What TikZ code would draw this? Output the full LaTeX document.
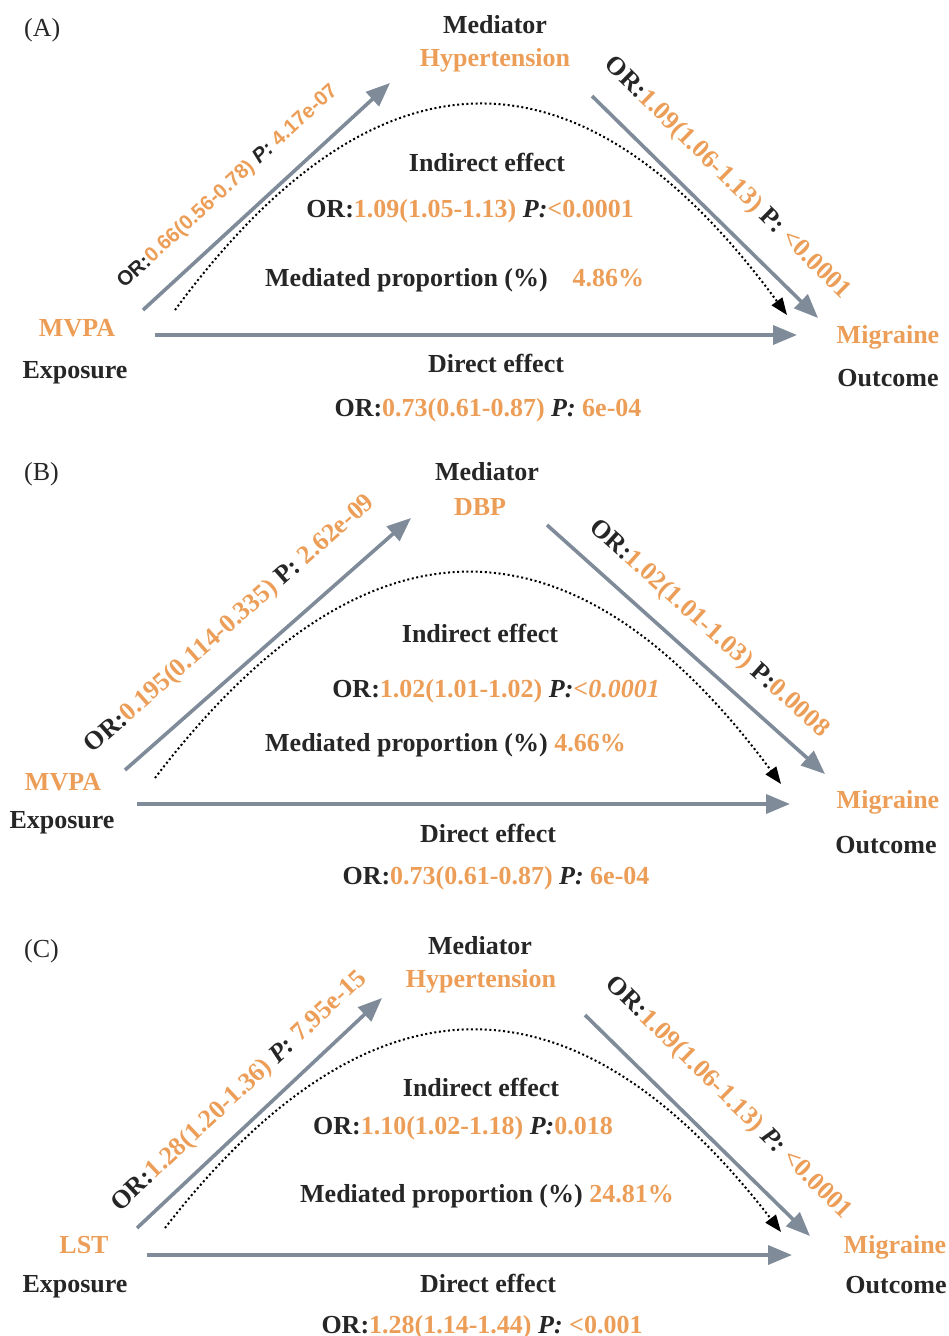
\documentclass[tikz,border=0pt]{standalone}
\usepackage{fontspec}
\setmainfont{Liberation Serif}
\newfontfamily\arialfam{Liberation Sans}
\usetikzlibrary{arrows.meta}
\definecolor{org}{RGB}{236,158,88}
\definecolor{arr}{RGB}{127,139,153}
\definecolor{ink}{RGB}{38,38,38}
\newcommand\orng[1]{\textcolor{org}{#1}}
\begin{document}
\begin{tikzpicture}[x=1pt,y=-1pt,
  txt/.style={font=\fontsize{26}{30}\selectfont\bfseries, text=ink, inner sep=0pt, anchor=base},
  otxt/.style={txt, text=org},
  plabel/.style={font=\fontsize{26}{30}\selectfont, text=ink, inner sep=0pt, anchor=base west},
  mainarrow/.style={draw=arr, line width=3.6pt, -{Triangle[length=24pt,width=19pt]}},
  indarrow/.style={draw=black, line width=2pt, dash pattern=on 2pt off 2.6pt, -{Triangle[length=17pt,width=13pt]}},
  lab/.style={font=\fontsize{26}{30}\selectfont\bfseries, text=ink, inner sep=0pt, sloped},
  slab/.style={font=\arialfam\fontsize{20.5}{24}\selectfont\bfseries, text=ink, inner sep=0pt, sloped}
]
\useasboundingbox (0,0) rectangle (949,1336);

% ================= Panel A =================
\node[plabel] (Alab) at (24,36) {(A)};
\node[txt] (Amed) at (495,33) {Mediator};
\node[otxt] (Amedn) at (495,66) {Hypertension};
\node[otxt] (Aexpn) at (77,336) {MVPA};
\node[txt] (Aexp) at (75,378) {Exposure};
\node[otxt] (Aoutn) at (888,343) {Migraine};
\node[txt] (Aout) at (888,386) {Outcome};
\node[txt] (Aind) at (487,171) {Indirect effect};
\node[txt] (Aindor) at (470,217) {OR:\orng{1.09(1.05-1.13)} \textit{P:}\orng{<0.0001}};
\node[txt, anchor=base west] (Aprop) at (265,286) {Mediated proportion (\%)\hspace{0.95em}\orng{4.86\%}};
\node[txt] (Adir) at (496,372) {Direct effect};
\node[txt] (Adiror) at (488,416) {OR:\orng{0.73(0.61-0.87)} \textit{P:} \orng{6e-04}};

\coordinate (Aa1) at (143,310);
\coordinate (Aa2) at (390,83);
\coordinate (Ab1) at (592,96);
\coordinate (Ab2) at (818,318);
\coordinate (Ac1) at (155,335);
\coordinate (Ac2) at (797,335);
\coordinate (Ad1) at (175,310);
\coordinate (Ad2) at (787,315);

\draw[mainarrow] (Aa1) -- node[slab, pos=0.435, above=22pt] (AlabA) {OR:\orng{0.66(0.56-0.78)} \textit{P:} \orng{4.17e-07}} (Aa2);
\draw[mainarrow] (Ab1) -- node[lab, pos=0.487, above=22.4pt] (AlabB) {OR:\orng{1.09(1.06-1.13)} P: \orng{<0.0001}} (Ab2);
\draw[mainarrow] (Ac1) -- (Ac2);
\draw[indarrow] (Ad1) .. controls (378,35) and (583,37) .. (Ad2);

% ================= Panel B =================
\node[plabel] (Blab) at (24,480) {(B)};
\node[txt] (Bmed) at (487,480) {Mediator};
\node[otxt] (Bmedn) at (480,515) {DBP};
\node[otxt] (Bexpn) at (63,790) {MVPA};
\node[txt] (Bexp) at (62,828) {Exposure};
\node[otxt] (Boutn) at (888,808) {Migraine};
\node[txt] (Bout) at (886,853) {Outcome};
\node[txt] (Bind) at (480,642) {Indirect effect};
\node[txt] (Bindor) at (496,697) {OR:\orng{1.02(1.01-1.02)} \textit{P:}\orng{\textit{<0.0001}}};
\node[txt, anchor=base west] (Bprop) at (265,751) {Mediated proportion (\%) \orng{4.66\%}};
\node[txt] (Bdir) at (488,842) {Direct effect};
\node[txt] (Bdiror) at (496,884) {OR:\orng{0.73(0.61-0.87)} \textit{P:} \orng{6e-04}};

\coordinate (Ba1) at (125,770);
\coordinate (Ba2) at (411,518);
\coordinate (Bb1) at (547,525);
\coordinate (Bb2) at (825,774);
\coordinate (Bc1) at (137,804);
\coordinate (Bc2) at (790,804);
\coordinate (Bd1) at (155,778);
\coordinate (Bd2) at (781,784);

\draw[mainarrow] (Ba1) -- node[lab, pos=0.459, above=26pt] (BlabA) {OR:\orng{0.195(0.114-0.335)} P: \orng{2.62e-09}} (Ba2);
\draw[mainarrow] (Bb1) -- node[lab, pos=0.508, above=17pt] (BlabB) {OR:\orng{1.02(1.01-1.03)} P:\orng{0.0008}} (Bb2);
\draw[mainarrow] (Bc1) -- (Bc2);
\draw[indarrow] (Bd1) .. controls (365,503) and (574,505) .. (Bd2);

% ================= Panel C =================
\node[plabel] (Clab) at (24,957) {(C)};
\node[txt] (Cmed) at (480,954) {Mediator};
\node[otxt] (Cmedn) at (481,987) {Hypertension};
\node[otxt] (Cexpn) at (84,1253) {LST};
\node[txt] (Cexp) at (75,1292) {Exposure};
\node[otxt] (Coutn) at (895,1253) {Migraine};
\node[txt] (Cout) at (896,1293) {Outcome};
\node[txt] (Cind) at (481,1096) {Indirect effect};
\node[txt] (Cindor) at (463,1134) {OR:\orng{1.10(1.02-1.18)} \textit{P:}\orng{0.018}};
\node[txt, anchor=base west] (Cprop) at (300,1202) {Mediated proportion (\%) \orng{24.81\%}};
\node[txt] (Cdir) at (488,1292) {Direct effect};
\node[txt] (Cdiror) at (482,1333) {OR:\orng{1.28(1.14-1.44)} \textit{P:} \orng{<0.001}};

\coordinate (Ca1) at (137,1228);
\coordinate (Ca2) at (382,998);
\coordinate (Cb1) at (585,1015);
\coordinate (Cb2) at (810,1236);
\coordinate (Cc1) at (147,1255);
\coordinate (Cc2) at (792,1255);
\coordinate (Cd1) at (165,1228);
\coordinate (Cd2) at (781,1232);

\draw[mainarrow] (Ca1) -- node[lab, pos=0.5, above=15.6pt] (ClabA) {OR:\orng{1.28(1.20-1.36)} \textit{P:} \orng{7.95e-15}} (Ca2);
\draw[mainarrow] (Cb1) -- node[lab, pos=0.509, above=27.5pt] (ClabB) {OR:\orng{1.09(1.06-1.13)} \textit{P:} \orng{<0.0001}} (Cb2);
\draw[mainarrow] (Cc1) -- (Cc2);
\draw[indarrow] (Cd1) .. controls (370,964) and (575,965) .. (Cd2);
\end{tikzpicture}
\end{document}
